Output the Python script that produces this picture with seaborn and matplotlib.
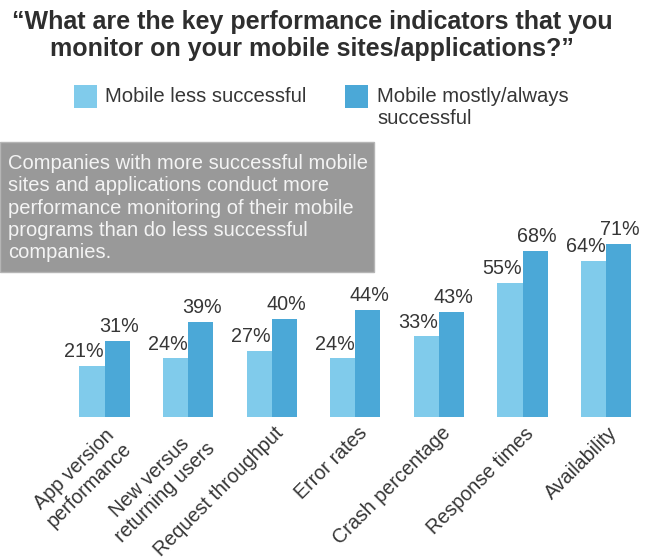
import matplotlib
matplotlib.use("Agg")
import matplotlib.pyplot as plt
from matplotlib.patches import Rectangle
from matplotlib.transforms import ScaledTranslation
import pandas as pd
import seaborn as sns

# Survey results (% of respondents monitoring each KPI)
kpis = [
    "App version\nperformance",
    "New versus\nreturning users",
    "Request throughput",
    "Error rates",
    "Crash percentage",
    "Response times",
    "Availability",
]
groups = ["Mobile less successful", "Mobile mostly/always\nsuccessful"]
less_successful = [21, 24, 27, 24, 33, 55, 64]
more_successful = [31, 39, 40, 44, 43, 68, 71]

title_lines = [
    "\u201cWhat are the key performance indicators that you",
    "monitor on your mobile sites/applications?\u201d",
]
callout_lines = [
    "Companies with more successful mobile",
    "sites and applications conduct more",
    "performance monitoring of their mobile",
    "programs than do less successful",
    "companies.",
]

LIGHT = "#80CBEB"
DARK = "#4BA8D7"
TEXT = "#363636"
W, H = 654, 559

df = pd.DataFrame({
    "kpi": kpis * 2,
    "pct": less_successful + more_successful,
    "group": [groups[0]] * len(kpis) + [groups[1]] * len(kpis),
})

sns.set_theme(style="white")
plt.rcParams["font.family"] = ["Liberation Sans", "DejaVu Sans"]

fig = plt.figure(figsize=(W / 100, H / 100), dpi=100)
fig.patch.set_facecolor("white")


def px(x, y):
    """Pixel position (from top-left) to figure fraction."""
    return x / W, 1 - y / H


# plot area: category spacing 83.6 px, baseline at y=416.7, 100% = 243.3 px
ax = fig.add_axes([62.7 / W, (H - 416.7) / H, 585.2 / W, 243.3 / H])
sns.barplot(data=df, x="kpi", y="pct", hue="group", palette=[LIGHT, DARK],
            width=0.6, gap=0, saturation=1, linewidth=0, legend=False, ax=ax)
ax.set_xlim(-0.5, len(kpis) - 0.5)
ax.set_ylim(0, 100)
ax.set_xlabel("")
ax.set_ylabel("")
ax.set_yticks([])
for s in ax.spines.values():
    s.set_visible(False)
ax.patch.set_alpha(0)

# value labels: light series right-aligned to its bar edge, dark series centred
for i, cont in enumerate(ax.containers):
    for bar in cont:
        h = bar.get_height()
        if i == 0:
            ax.annotate(f"{h:.0f}%", (bar.get_x() + bar.get_width(), h),
                        xytext=(-0.5, 6.2), textcoords="offset points",
                        ha="right", va="baseline", fontsize=14.2, color=TEXT,
                        annotation_clip=False)
        else:
            ax.annotate(f"{h:.0f}%", (bar.get_x() + bar.get_width() / 2, h),
                        xytext=(1.2, 6.5), textcoords="offset points",
                        ha="center", va="baseline", fontsize=14.2, color=TEXT,
                        annotation_clip=False)

ax.set_xticks(range(len(kpis)))
ax.set_xticklabels(kpis, rotation=45, ha="right", rotation_mode="anchor",
                   fontsize=14.2, color=TEXT)
ax.tick_params(axis="x", length=0, pad=5)
shift = ScaledTranslation(2 / 100, 0, fig.dpi_scale_trans)
for lbl in ax.get_xticklabels():
    lbl.set_multialignment("center")
    lbl.set_transform(lbl.get_transform() + shift)

# title
for line, base in zip(title_lines, [29, 56]):
    fig.text(*px(312, base), line, ha="center", va="baseline",
             fontsize=18, fontweight="bold", color="#2e2e2e")

# legend
for (x0, color, label, tx) in [(74, LIGHT, groups[0], 105),
                               (345, DARK, groups[1], 377)]:
    fig.patches.append(Rectangle(px(x0, 108), 23 / W, 23 / H,
                                 transform=fig.transFigure, facecolor=color,
                                 edgecolor="none"))
    for j, part in enumerate(label.split("\n")):
        fig.text(*px(tx, 101.7 + 22.3 * j), part, ha="left", va="baseline",
                 fontsize=14.6, color=TEXT)

# grey call-out box
fig.patches.append(Rectangle(px(0, 272), 374 / W, 130.5 / H,
                             transform=fig.transFigure, facecolor="#999999",
                             edgecolor="#b5b5b5", linewidth=1))
for j, line in enumerate(callout_lines):
    fig.text(*px(8, 169 + 22.3 * j), line, ha="left", va="baseline",
             fontsize=14.5, color="#f4f4f4")

fig.savefig("out.png", dpi=100)
